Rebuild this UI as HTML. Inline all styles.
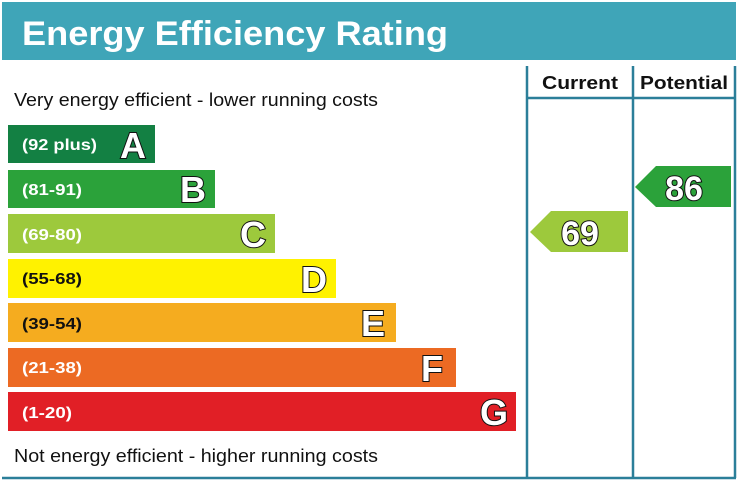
<!DOCTYPE html>
<html><head><meta charset="utf-8"><style>html,body{margin:0;padding:0;background:#fff}svg{display:block}</style></head>
<body>
<svg width="738" height="483" viewBox="0 0 738 483" xmlns="http://www.w3.org/2000/svg" font-family="Liberation Sans, Arial, sans-serif">
<rect x="2" y="2" width="734" height="58" fill="#3fa5b8"/>
<text x="22" y="45" font-size="34" font-weight="bold" fill="#fff" textLength="426" lengthAdjust="spacingAndGlyphs">Energy Efficiency Rating</text>
<g stroke="#2b7f99" stroke-width="2.5" fill="none">
<line x1="527" y1="66" x2="527" y2="478"/>
<line x1="633" y1="66" x2="633" y2="478"/>
<line x1="735" y1="66" x2="735" y2="478"/>
<line x1="527" y1="98" x2="735" y2="98"/>
<line x1="2" y1="478" x2="736" y2="478"/>
</g>
<text x="580" y="89" font-size="18" font-weight="bold" text-anchor="middle" fill="#111" textLength="76" lengthAdjust="spacingAndGlyphs">Current</text>
<text x="684" y="89" font-size="18" font-weight="bold" text-anchor="middle" fill="#111" textLength="88" lengthAdjust="spacingAndGlyphs">Potential</text>
<text x="14" y="106" font-size="18" fill="#111" textLength="364" lengthAdjust="spacingAndGlyphs">Very energy efficient - lower running costs</text>
<text x="14" y="462" font-size="18" fill="#111" textLength="364" lengthAdjust="spacingAndGlyphs">Not energy efficient - higher running costs</text>
<g font-weight="bold">
<rect x="8" y="125" width="147" height="38" fill="#138043"/>
<rect x="8" y="170" width="207" height="38" fill="#2ba23a"/>
<rect x="8" y="214" width="267" height="39" fill="#9dc93c"/>
<rect x="8" y="259" width="328" height="39" fill="#fff200"/>
<rect x="8" y="303" width="388" height="39" fill="#f5ac1f"/>
<rect x="8" y="348" width="448" height="39" fill="#ec6a23"/>
<rect x="8" y="392" width="508" height="39" fill="#e11f26"/>
<g font-size="16" fill="#fff">
<text x="22" y="150" textLength="75" lengthAdjust="spacingAndGlyphs">(92 plus)</text>
<text x="22" y="195" textLength="60" lengthAdjust="spacingAndGlyphs">(81-91)</text>
<text x="22" y="240" textLength="60" lengthAdjust="spacingAndGlyphs">(69-80)</text>
<text x="22" y="284" fill="#111" textLength="60" lengthAdjust="spacingAndGlyphs">(55-68)</text>
<text x="22" y="329" fill="#111" textLength="60" lengthAdjust="spacingAndGlyphs">(39-54)</text>
<text x="22" y="373" textLength="60" lengthAdjust="spacingAndGlyphs">(21-38)</text>
<text x="22" y="418" textLength="50" lengthAdjust="spacingAndGlyphs">(1-20)</text>
</g>
<g font-size="36" fill="#fff" stroke="#111" stroke-width="2" paint-order="stroke" text-anchor="end">
<text x="146" y="158">A</text>
<text x="206" y="202">B</text>
<text x="266" y="247">C</text>
<text x="327" y="292">D</text>
<text x="385" y="336">E</text>
<text x="443" y="381">F</text>
<text x="508" y="425">G</text>
</g>
<polygon points="530,232 551,211 628,211 628,252 551,252" fill="#9dc93c"/>
<polygon points="635,187 656,166 731,166 731,207 656,207" fill="#2ba23a"/>
<g font-size="34" fill="#fff" stroke="#111" stroke-width="2" paint-order="stroke" text-anchor="middle">
<text x="580" y="245">69</text>
<text x="684" y="200">86</text>
</g>
</g>
</svg>
</body></html>
